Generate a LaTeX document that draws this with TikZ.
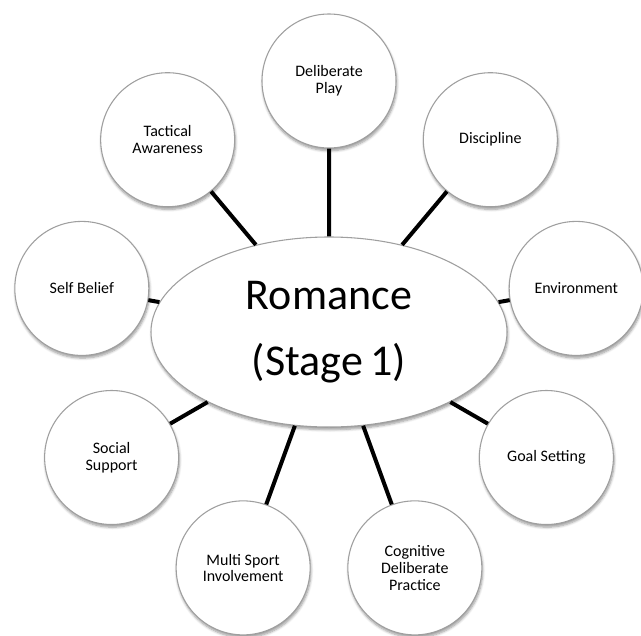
\documentclass[tikz,border=0pt]{standalone}
\usepackage{fontspec}
\setmainfont{Carlito}
\usetikzlibrary{shapes.geometric,shadows.blur}

\begin{document}
\begin{tikzpicture}[x=0.75pt,y=0.75pt,
  cnode/.style={circle,draw=gray!75,line width=0.8pt,fill=white,
    minimum size=100.5pt,inner sep=0pt,align=center,
    font=\fontsize{12}{12.5}\selectfont,
    blur shadow={shadow xshift=0.6pt,shadow yshift=-2pt,shadow blur steps=6,shadow opacity=40}},
  rnode/.style={ellipse,draw=gray!75,line width=0.8pt,fill=white,
    minimum width=267pt,minimum height=142.5pt,inner sep=0pt,align=center,
    font=\fontsize{33}{49.5}\selectfont,
    blur shadow={shadow xshift=0.6pt,shadow yshift=-2pt,shadow blur steps=6,shadow opacity=40}},
  link/.style={line width=3pt,black}]

  \useasboundingbox (-329,-303) rectangle (312,332);

  \node[rnode] (rom) at (0,0) {Romance\\(Stage\,1)};

  % circles round the centre, clockwise from the top
  \node[cnode] (play)  at (90:251)  {Deliberate\\Play};
  \node[cnode] (disc)  at (50:251)  {Discipline};
  \node[cnode] (env)   at (10:251)  {Environment};
  \node[cnode] (goal)  at (-30:251) {Goal Setting};
  \node[cnode] (cog)   at (-70:251) {Cognitive\\Deliberate\\Practice};
  \node[cnode] (multi) at (250:251) {Multi Sport\\Involvement};
  \node[cnode] (soc)   at (210:251) {Social\\Support};
  \node[cnode] (self)  at (170:251) {Self Belief};
  \node[cnode] (tact)  at (130:251) {Tactical\\Awareness};

  % spokes
  \draw[link] (rom) -- (play)
  (rom) -- (disc)
  (rom) -- (env)
  (rom) -- (goal)
  (rom) -- (cog)
  (rom) -- (multi)
  (rom) -- (soc)
  (rom) -- (self)
  (rom) -- (tact);

\end{tikzpicture}
\end{document}
